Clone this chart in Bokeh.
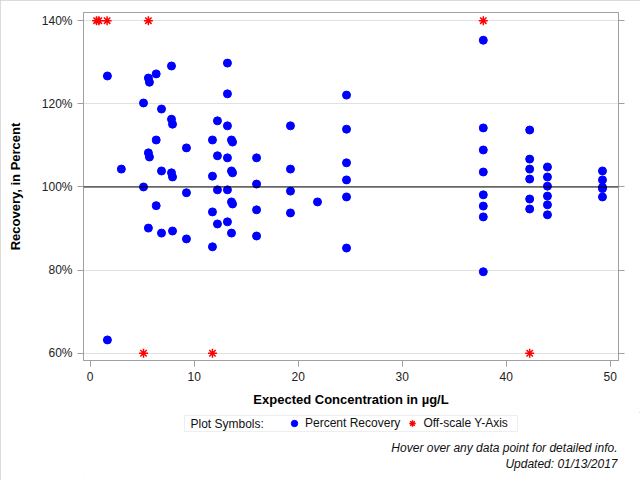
from bokeh.plotting import figure
from bokeh.layouts import column
from bokeh.models import (LinearAxis, Range1d, Span, Legend, LegendItem, Label,
                          BoxAnnotation, PrintfTickFormatter, SingleIntervalTicker,
                          ColumnDataSource)
from bokeh.embed import file_html
from bokeh.resources import INLINE

# Percent recovery (on scale)
conc = [1.66, 1.66, 3.0, 5.13, 5.13, 5.6, 5.7, 5.6, 5.7, 5.6,
        6.35, 6.35, 6.35, 6.86, 6.86, 6.86, 7.82, 7.82, 7.92, 7.82,
        7.92, 7.92, 9.26, 9.26, 9.26, 11.76, 11.76, 11.76, 11.76, 12.24,
        12.24, 12.24, 12.24, 13.2, 13.2, 13.2, 13.2, 13.2, 13.2, 13.59,
        13.69, 13.59, 13.69, 13.59, 13.69, 13.59, 16.0, 16.0, 16.0, 16.0,
        19.26, 19.26, 19.26, 19.26, 21.86, 24.65, 24.65, 24.65, 24.65, 24.65,
        24.65, 37.8, 37.8, 37.8, 37.8, 37.8, 37.8, 37.8, 37.8, 42.26,
        42.26, 42.26, 42.26, 42.26, 42.26, 43.97, 43.97, 43.97, 43.97, 43.97,
        43.97, 49.26, 49.26, 49.26, 49.26, 49.26]
recovery = [126.7, 63.2, 104.3, 120.2, 100.0, 126.2, 125.2, 108.2, 107.2, 90.1,
            127.2, 111.3, 95.5, 118.75, 103.85, 88.9, 129.1, 116.3, 115.1, 103.4,
            102.4, 89.4, 109.4, 98.6, 87.5, 111.3, 102.6, 94.0, 85.6, 115.9,
            107.5, 99.3, 91.1, 129.8, 122.4, 114.7, 107.0, 99.3, 91.6, 111.3,
            110.8, 103.85, 103.4, 96.4, 95.9, 88.9, 107.0, 100.7, 94.5, 88.2,
            114.7, 104.3, 99.0, 93.75, 96.4, 122.1, 113.9, 105.8, 101.7, 97.6,
            85.3, 135.3, 114.2, 108.9, 103.6, 98.1, 95.4, 92.8, 79.6, 113.7,
            106.7, 104.3, 101.9, 97.1, 94.7, 104.8, 102.4, 100.2, 97.8, 95.7,
            93.3, 103.85, 101.7, 99.9, 99.6, 97.6]

# Off-scale values, drawn at the axis limits
off_conc = [0.62, 0.84, 1.63, 5.6, 37.8, 5.13, 11.76, 42.26]
off_y = [140, 140, 140, 140, 140, 60, 60, 60]

y_ticks_interval = 20
x_ticks_interval = 10

legend_title = "Plot Symbols:"
series_labels = ["Percent Recovery", "Off-scale Y-Axis"]
footnotes = ["Hover over any data point for detailed info.", "Updated: 01/13/2017"]

FONT = "Liberation Sans"
BLUE = "#0000ff"
RED = "#ff0000"

src_pts = ColumnDataSource(dict(x=conc, y=recovery))
src_off = ColumnDataSource(dict(x=off_conc, y=off_y))

# ---------------- main chart ----------------
p = figure(width=640, height=412, output_backend="svg", toolbar_location=None,
           x_range=Range1d(-0.64, 50.8), y_range=Range1d(58.25, 141.97),
           min_border_left=83, min_border_right=22, min_border_top=12,
           min_border_bottom=52, background_fill_color="white",
           border_fill_color="white")

p.outline_line_color = "#a0a0a0"
p.xgrid.visible = False
p.ygrid.grid_line_color = "#e1e1e1"
p.ygrid.ticker = SingleIntervalTicker(interval=y_ticks_interval)

def style_axis(ax):
    ax.axis_line_color = "#a0a0a0"
    ax.major_tick_line_color = "#a0a0a0"
    ax.major_tick_out = 6
    ax.major_tick_in = 0
    ax.minor_tick_line_color = None
    ax.major_label_text_font = FONT
    ax.major_label_text_font_size = "12px"
    ax.major_label_text_color = "#222222"
    ax.axis_label_text_font = FONT
    ax.axis_label_text_font_size = "13px"
    ax.axis_label_text_font_style = "bold"
    ax.axis_label_text_color = "black"

xa = p.xaxis[0]
style_axis(xa)
xa.ticker = SingleIntervalTicker(interval=x_ticks_interval)
xa.axis_label = "Expected Concentration in \u00b5g/L"
xa.axis_label_standoff = 8

ya = p.yaxis[0]
style_axis(ya)
ya.ticker = SingleIntervalTicker(interval=y_ticks_interval)
ya.formatter = PrintfTickFormatter(format="%d%%")
ya.axis_label = "Recovery, in Percent"
ya.axis_label_standoff = 16

ra = LinearAxis(ticker=SingleIntervalTicker(interval=y_ticks_interval))
style_axis(ra)
ra.major_label_text_font_size = "1px"
ra.major_label_text_color = None
ra.major_label_standoff = 0
p.add_layout(ra, "right")

p.add_layout(Span(location=100, dimension="width", line_color="black", line_width=1))

PTS_STYLE = dict(size=8, marker="circle", fill_color=BLUE, line_color=BLUE)
OFF_STYLE = dict(size=9, marker="asterisk", line_color=RED, line_width=1.5)

pts = p.scatter(x="x", y="y", source=src_pts, **PTS_STYLE)
off = p.scatter(x="x", y="y", source=src_off, **OFF_STYLE)

# ---------------- legend + footnotes strip ----------------
# (its frame is aligned with the chart's frame; units below are page pixels,
#  so the data of the legend-only renderers falls outside it and is not seen)
H2 = 68
p2 = figure(width=640, height=H2, output_backend="svg", toolbar_location=None,
            x_range=Range1d(83, 618), y_range=Range1d(0, H2),
            x_axis_location=None, y_axis_location=None,
            min_border_left=83, min_border_right=22,
            min_border_top=0, min_border_bottom=0,
            outline_line_color=None, background_fill_color="white",
            border_fill_color="white")
p2.grid.visible = False

leg_pts = p2.scatter(x="x", y="y", source=src_pts, **PTS_STYLE)
leg_off = p2.scatter(x="x", y="y", source=src_off, **OFF_STYLE)

p2.add_layout(BoxAnnotation(left=184, right=517, top=65, bottom=49,
                            fill_color=None, line_color="#c8c8c8", line_width=1))
p2.add_layout(Label(x=190, y=57, text=legend_title, text_baseline="middle",
                    text_font=FONT, text_font_size="12px", text_color="#111111"))

legend = Legend(items=[LegendItem(label=series_labels[0], renderers=[leg_pts]),
                       LegendItem(label=series_labels[1], renderers=[leg_off])],
                orientation="horizontal", location=(286 - 83, 49),
                border_line_color=None, background_fill_color=None,
                padding=0, spacing=4, margin=0,
                glyph_width=16, glyph_height=16, label_standoff=3,
                label_height=12, label_text_font=FONT,
                label_text_font_size="12px", label_text_color="#111111")
p2.add_layout(legend)

for txt, yy in zip(footnotes, [33, 17]):
    p2.add_layout(Label(x=617, y=yy, text=txt, text_align="right",
                        text_baseline="middle", text_font=FONT,
                        text_font_size="12px", text_font_style="italic",
                        text_color="#111111"))

layout = column(p, p2, spacing=0)
layout.styles = {"outline": "1px solid #cfcfcf", "outline-offset": "-1px"}

open("out.html", "w").write(file_html(layout, INLINE))
